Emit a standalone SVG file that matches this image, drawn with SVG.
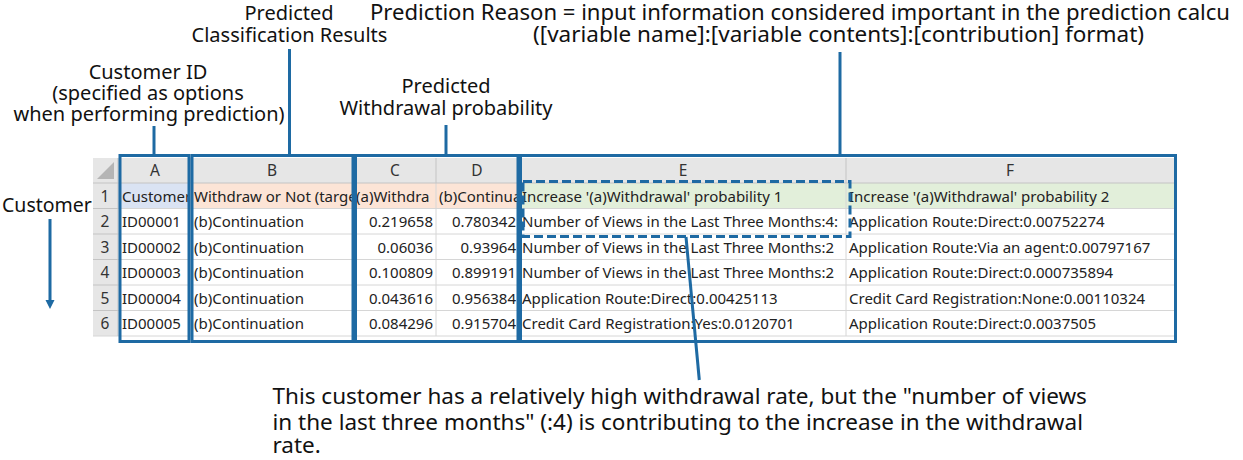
<svg xmlns="http://www.w3.org/2000/svg" width="1243" height="460" viewBox="0 0 1243 460">
<style>
.lbl{font-family:"Noto Sans","Open Sans","Liberation Sans",sans-serif;font-size:20px;fill:#111}
.big{font-size:22.5px}
.cell{font-family:"Noto Sans","Open Sans","Liberation Sans",sans-serif;font-size:15px;fill:#222}
.hdr{font-family:"Noto Sans","Open Sans","Liberation Sans",sans-serif;font-size:15.5px;fill:#333;text-anchor:middle}
.num{text-anchor:end}
.box{fill:none;stroke:#1E6AA3;stroke-width:3}
.dash{fill:none;stroke:#1E6AA3;stroke-width:3;stroke-dasharray:9 4}
.con{fill:none;stroke:#1E6AA3;stroke-width:3}
.blue{fill:#1E6AA3;stroke:none}
.grid{stroke:#d6d6d6;stroke-width:1}
.hgrid{stroke:#c4c4c4;stroke-width:1}
</style>
<defs>
<clipPath id="cA"><rect x="118" y="183" width="71" height="155"/></clipPath>
<clipPath id="cB"><rect x="190" y="183" width="163" height="155"/></clipPath>
<clipPath id="cC"><rect x="353" y="183" width="83" height="155"/></clipPath>
<clipPath id="cD"><rect x="436" y="183" width="83" height="155"/></clipPath>
<clipPath id="cE"><rect x="519" y="183" width="327" height="155"/></clipPath>
<clipPath id="cF"><rect x="846" y="183" width="329" height="155"/></clipPath>
</defs>
<rect width="1243" height="460" fill="#fff"/>

<g id="table">
  <rect x="93" y="158" width="1082" height="25" fill="#e6e6e6"/>
  <rect x="93" y="183" width="25" height="153" fill="#e6e6e6"/>
  <polygon points="114,162 114,179 97,179" fill="#b5b5b5"/>
  <rect x="118" y="183" width="72" height="25.5" fill="#dae3f3"/>
  <rect x="190" y="183" width="329" height="25.5" fill="#fce4d6"/>
  <rect x="519" y="183" width="656" height="25.5" fill="#e2efda"/>
  <g class="grid">
    <line x1="118" y1="208.5" x2="1175" y2="208.5"/>
    <line x1="118" y1="234" x2="1175" y2="234"/>
    <line x1="118" y1="259.5" x2="1175" y2="259.5"/>
    <line x1="118" y1="285" x2="1175" y2="285"/>
    <line x1="118" y1="310.5" x2="1175" y2="310.5"/>
    <line x1="93" y1="336" x2="1175" y2="336"/>
    <line x1="190" y1="183" x2="190" y2="336"/>
    <line x1="353" y1="183" x2="353" y2="336"/>
    <line x1="436" y1="183" x2="436" y2="336"/>
    <line x1="519" y1="183" x2="519" y2="336"/>
    <line x1="846" y1="183" x2="846" y2="336"/>
  </g>
  <g class="hgrid">
    <line x1="93" y1="183" x2="1175" y2="183"/>
    <line x1="118" y1="158" x2="118" y2="336"/>
    <line x1="190" y1="158" x2="190" y2="183"/>
    <line x1="353" y1="158" x2="353" y2="183"/>
    <line x1="436" y1="158" x2="436" y2="183"/>
    <line x1="519" y1="158" x2="519" y2="183"/>
    <line x1="846" y1="158" x2="846" y2="183"/>
    <line x1="93" y1="208.5" x2="118" y2="208.5"/>
    <line x1="93" y1="234" x2="118" y2="234"/>
    <line x1="93" y1="259.5" x2="118" y2="259.5"/>
    <line x1="93" y1="285" x2="118" y2="285"/>
    <line x1="93" y1="310.5" x2="118" y2="310.5"/>
  </g>
  <text class="hdr" x="155" y="176">A</text>
  <text class="hdr" x="272" y="176">B</text>
  <text class="hdr" x="395" y="176">C</text>
  <text class="hdr" x="477" y="176">D</text>
  <text class="hdr" x="683" y="176">E</text>
  <text class="hdr" x="1010" y="176">F</text>
  <text class="hdr" x="105" y="201.5">1</text>
  <text class="hdr" x="105" y="227">2</text>
  <text class="hdr" x="105" y="252.5">3</text>
  <text class="hdr" x="105" y="278">4</text>
  <text class="hdr" x="105" y="303.5">5</text>
  <text class="hdr" x="105" y="329">6</text>
  <g clip-path="url(#cA)">
    <text class="cell" x="122" y="201.5">Customer</text>
    <text class="cell" x="122" y="227">ID00001</text>
    <text class="cell" x="122" y="252.5">ID00002</text>
    <text class="cell" x="122" y="278">ID00003</text>
    <text class="cell" x="122" y="303.5">ID00004</text>
    <text class="cell" x="122" y="329">ID00005</text>
  </g>
  <g clip-path="url(#cB)">
    <text class="cell" x="194" y="201.5">Withdraw or Not (targe</text>
    <text class="cell" x="194" y="227">(b)Continuation</text>
    <text class="cell" x="194" y="252.5">(b)Continuation</text>
    <text class="cell" x="194" y="278">(b)Continuation</text>
    <text class="cell" x="194" y="303.5">(b)Continuation</text>
    <text class="cell" x="194" y="329">(b)Continuation</text>
  </g>
  <g clip-path="url(#cC)">
    <text class="cell" x="356" y="201.5">(a)Withdra</text>
    <text class="cell num" x="433" y="227">0.219658</text>
    <text class="cell num" x="433" y="252.5">0.06036</text>
    <text class="cell num" x="433" y="278">0.100809</text>
    <text class="cell num" x="433" y="303.5">0.043616</text>
    <text class="cell num" x="433" y="329">0.084296</text>
  </g>
  <g clip-path="url(#cD)">
    <text class="cell" x="439" y="201.5">(b)Continua</text>
    <text class="cell num" x="516" y="227">0.780342</text>
    <text class="cell num" x="516" y="252.5">0.93964</text>
    <text class="cell num" x="516" y="278">0.899191</text>
    <text class="cell num" x="516" y="303.5">0.956384</text>
    <text class="cell num" x="516" y="329">0.915704</text>
  </g>
  <g clip-path="url(#cE)">
    <text class="cell" x="522" y="201.5">Increase '(a)Withdrawal' probability 1</text>
    <text class="cell" x="522" y="227">Number of Views in the Last Three Months:4:</text>
    <text class="cell" x="522" y="252.5">Number of Views in the Last Three Months:2</text>
    <text class="cell" x="522" y="278">Number of Views in the Last Three Months:2</text>
    <text class="cell" x="522" y="303.5">Application Route:Direct:0.00425113</text>
    <text class="cell" x="522" y="329">Credit Card Registration:Yes:0.0120701</text>
  </g>
  <g clip-path="url(#cF)">
    <text class="cell" x="849" y="201.5">Increase '(a)Withdrawal' probability 2</text>
    <text class="cell" x="849" y="227">Application Route:Direct:0.00752274</text>
    <text class="cell" x="849" y="252.5">Application Route:Via an agent:0.00797167</text>
    <text class="cell" x="849" y="278">Application Route:Direct:0.000735894</text>
    <text class="cell" x="849" y="303.5">Credit Card Registration:None:0.00110324</text>
    <text class="cell" x="849" y="329">Application Route:Direct:0.0037505</text>
  </g>
</g>

<g id="box-a"><rect class="box" x="120" y="155.5" width="69" height="186"/></g>
<g id="box-b"><rect class="box" x="192" y="155.5" width="161" height="186"/></g>
<g id="box-cd"><rect class="box" x="355.5" y="155.5" width="162.5" height="186"/></g>
<g id="box-ef"><rect class="box" x="520.5" y="155.5" width="655" height="186"/></g>
<g id="box-highlight"><rect class="dash" x="523" y="181.5" width="327" height="55"/></g>

<g id="label-customer-id">
  <text class="lbl" text-anchor="middle"><tspan x="148" y="79">Customer ID</tspan><tspan x="148" y="100">(specified as options</tspan><tspan x="149" y="121">when performing prediction)</tspan></text>
</g>
<g id="label-classification">
  <text class="lbl" text-anchor="middle"><tspan x="289" y="20">Predicted</tspan><tspan x="289.5" y="41.5">Classification Results</tspan></text>
</g>
<g id="label-withdrawal">
  <text class="lbl" text-anchor="middle"><tspan x="446" y="93">Predicted</tspan><tspan x="446" y="115">Withdrawal probability</tspan></text>
</g>
<g id="label-reason">
  <text class="lbl" x="370" y="20" style="font-size:22.1px">Prediction Reason = input information considered important in the prediction calcu</text>
  <text class="lbl big" x="533" y="42">([variable name]:[variable contents]:[contribution] format)</text>
</g>
<g id="label-customer">
  <text class="lbl" x="2" y="212" style="font-size:19.5px">Customer</text>
</g>
<g id="label-note">
  <text class="lbl big"><tspan x="272.5" y="404">This customer has a relatively high withdrawal rate, but the "number of views</tspan><tspan x="272.5" y="430">in the last three months" (:4) is contributing to the increase in the withdrawal</tspan><tspan x="272.5" y="453">rate.</tspan></text>
</g>

<g id="connectors">
  <line class="con" x1="154" y1="126" x2="154" y2="155"/>
  <line class="con" x1="289.5" y1="49" x2="289.5" y2="155"/>
  <line class="con" x1="446" y1="125" x2="446" y2="155"/>
  <line class="con" x1="840" y1="52" x2="840" y2="155"/>
  <line class="con" x1="686" y1="237" x2="699.3" y2="380"/>
  <polygon id="customer-arrow" class="blue" points="48.5,219 51.5,219 51.5,300 54.5,300 50,309 45.5,300 48.5,300"/>
</g>
</svg>
